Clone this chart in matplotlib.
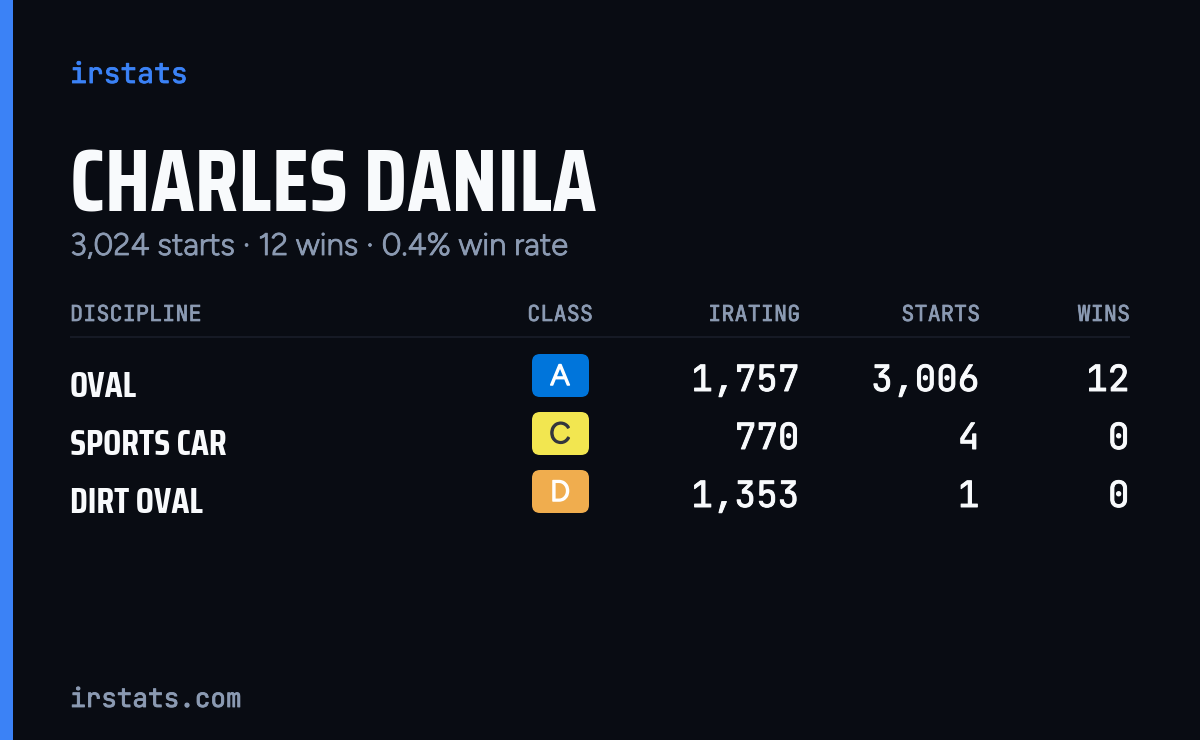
import matplotlib
matplotlib.use("Agg")
import matplotlib.pyplot as plt
import matplotlib.patheffects as pe
from matplotlib.patches import FancyBboxPatch, Rectangle

BG = "#090c13"
BLUE = "#3b82f6"
WHITE = "#f8fafc"
GREY = "#8b9ab2"
MONO = ["JetBrains Mono", "DejaVu Sans Mono"]
NARROW = ["Saira Extra Condensed", "Saira Condensed", "Roboto"]
SANS = ["Google Sans", "Figtree", "Open Sans"]

brand = "irstats"
driver = "CHARLES DANILA"
summary = "3,024 starts · 12 wins · 0.4% win rate"
footer = "irstats.com"

headers = ["DISCIPLINE", "CLASS", "IRATING", "STARTS", "WINS"]
disciplines = ["OVAL", "SPORTS CAR", "DIRT OVAL"]
classes = ["A", "C", "D"]
class_colors = ["#0075db", "#f2e650", "#f0ad4e"]
class_text = ["#ffffff", "#33363d", "#ffffff"]
iratings = ["1,757", "770", "1,353"]
starts = ["3,006", "4", "1"]
wins = ["12", "0", "0"]


# the variable fonts come out thin, so thicken them with a small outline
def put(x, y, s, color, family, size, thick=0.0, ha="left"):
    t = ax.text(x, y, s, color=color, family=family, fontsize=size, va="baseline", ha=ha)
    if thick:
        t.set_path_effects([pe.withStroke(linewidth=thick, foreground=color)])
    return t


fig = plt.figure(figsize=(12, 7.4), dpi=100, facecolor=BG)
ax = fig.add_axes([0, 0, 1, 1])
ax.set_xlim(0, 1200)
ax.set_ylim(740, 0)
ax.axis("off")

ax.add_patch(Rectangle((0, 0), 13, 740, color=BLUE, lw=0))

put(70, 83, brand, BLUE, MONO, 20.16, 0.6)
ax.text(70, 212, driver, color=WHITE, family=NARROW, weight="bold", fontsize=63.4, va="baseline")
put(70, 255, summary, GREY, SANS, 22.4, 0.6)

# table header
put(70, 321, headers[0], GREY, MONO, 15.8, 0.5)
put(560, 321, headers[1], GREY, MONO, 15.8, 0.5, ha="center")
for x, h in zip([800, 980, 1130], headers[2:]):
    put(x, 321, h, GREY, MONO, 15.8, 0.5, ha="right")
ax.plot([70, 1130], [337, 337], color="#161a25", lw=1.5, solid_capstyle="butt")

for i, name in enumerate(disciplines):
    y = 58 * i
    ax.text(70, 397 + y, name, color=WHITE, family=NARROW, weight="bold", fontsize=25.92, va="baseline")
    ax.add_patch(FancyBboxPatch((532 + 8, 354 + y + 8), 57 - 16, 43 - 16, boxstyle="round,pad=8,rounding_size=8",
                                fc=class_colors[i], ec="none", lw=0))
    put(560, 385 + y, classes[i], class_text[i], SANS, 21, 1.1, ha="center")
    put(799.5, 391 + y, iratings[i], WHITE, MONO, 25.92, 0.7, ha="right")
    put(979.5, 391 + y, starts[i], WHITE, MONO, 25.92, 0.7, ha="right")
    put(1129.5, 391 + y, wins[i], WHITE, MONO, 25.92, 0.7, ha="right")

put(70, 707, footer, GREY, MONO, 18.72, 0.6)

fig.savefig("out.png", dpi=100, facecolor=BG)
